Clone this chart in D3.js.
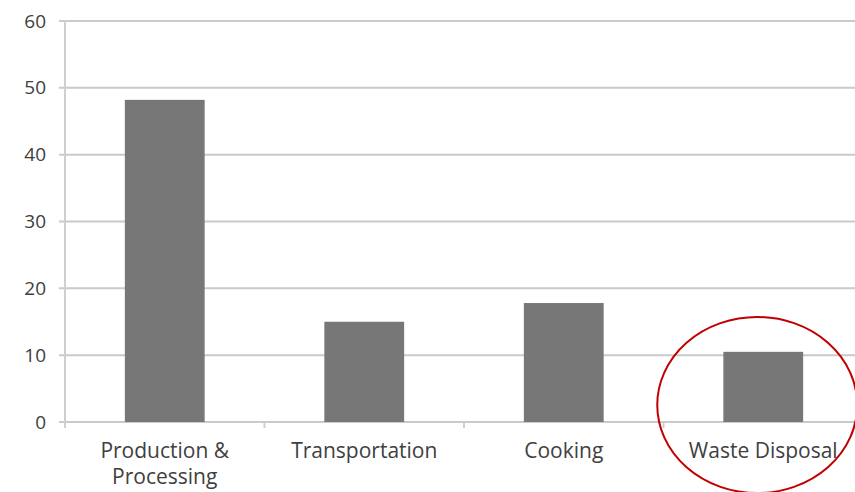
<!DOCTYPE html>
<html>
<head>
<meta charset="utf-8">
<script src="https://cdn.jsdelivr.net/npm/d3@7"></script>
<style>
  body { margin: 0; background: #fff; }
  svg text { font-family: "Open Sans", "Liberation Sans", sans-serif; fill: #404040; }
</style>
</head>
<body>
<svg id="chart" width="855" height="492"></svg>
<script>
// chart data
const categories = ['Production & Processing', 'Transportation', 'Cooking', 'Waste Disposal'];
const values = [48.2, 15, 17.8, 10.5];
const yTicks = [0, 10, 20, 30, 40, 50, 60];
const highlighted = 'Waste Disposal';

const svg = d3.select('#chart');
const margin = { left: 65, right: -8, top: 21, bottom: 70 };
const W = 855, H = 492;

const x = d3.scaleBand()
  .domain(categories)
  .range([margin.left, W - margin.right])
  .paddingInner(0.6)
  .paddingOuter(0.3);

const y = d3.scaleLinear().domain([0, 60]).range([H - margin.bottom, margin.top]);

// gridlines
svg.append('g').selectAll('line').data(yTicks).join('line')
  .attr('x1', margin.left - 6).attr('x2', W)
  .attr('y1', d => y(d)).attr('y2', d => y(d))
  .attr('stroke', '#cacaca').attr('stroke-width', 2);

// y axis line
svg.append('line')
  .attr('x1', margin.left).attr('x2', margin.left)
  .attr('y1', y(60)).attr('y2', y(0) + 6)
  .attr('stroke', '#cfcfcf').attr('stroke-width', 2);

// y tick labels
svg.append('g').selectAll('text').data(yTicks).join('text')
  .attr('x', 46).attr('y', d => y(d))
  .attr('dy', '0.35em')
  .attr('text-anchor', 'end')
  .style('font-size', '19px')
  .text(d => d);

// category separators
const step = x.step();
svg.append('g').selectAll('line').data(categories.slice(1)).join('line')
  .attr('x1', d => x(d) - step * x.paddingInner() / 2)
  .attr('x2', d => x(d) - step * x.paddingInner() / 2)
  .attr('y1', y(0)).attr('y2', y(0) + 6)
  .attr('stroke', '#cfcfcf').attr('stroke-width', 2);

// bars
svg.append('g').selectAll('rect').data(categories).join('rect')
  .attr('x', d => x(d))
  .attr('width', x.bandwidth())
  .attr('y', (d, i) => y(values[i]))
  .attr('height', (d, i) => y(0) - y(values[i]))
  .attr('fill', '#777777');

// category labels (wrap the long one)
const lab = svg.append('g').selectAll('text').data(categories).join('text')
  .attr('x', d => x(d) + x.bandwidth() / 2)
  .attr('y', 458)
  .attr('text-anchor', 'middle')
  .style('font-size', '21px');
lab.each(function(d) {
  const t = d3.select(this);
  const lines = d === 'Production & Processing' ? ['Production &', 'Processing'] : [d];
  lines.forEach((l, i) => {
    t.append('tspan').attr('x', x(d) + x.bandwidth() / 2).attr('dy', i ? 26 : 0).text(l);
  });
});

// highlight ellipse
svg.append('ellipse')
  .attr('cx', x(highlighted) + x.bandwidth() / 2 - 6)
  .attr('cy', 405)
  .attr('rx', 100)
  .attr('ry', 88)
  .attr('fill', 'none')
  .attr('stroke', '#c00000')
  .attr('stroke-width', 2);
</script>
</body>
</html>
